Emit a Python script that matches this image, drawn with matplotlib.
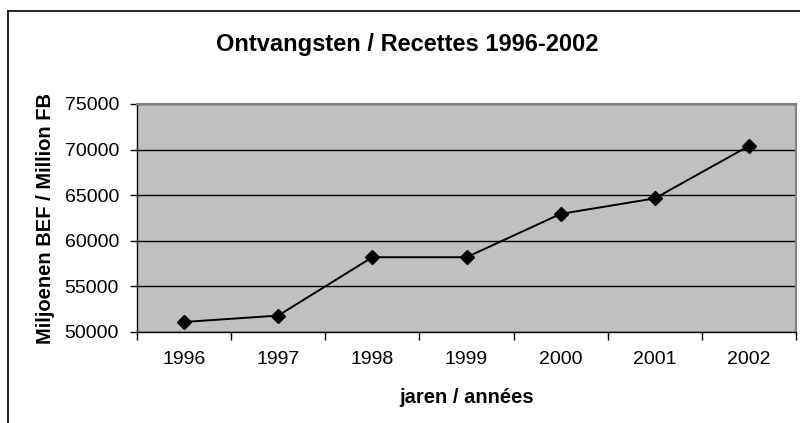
import matplotlib
matplotlib.use("Agg")
import matplotlib.pyplot as plt
from matplotlib.lines import Line2D
import numpy as np

plt.rcParams["font.family"] = ["Liberation Sans", "DejaVu Sans"]

# Data
years = ["1996", "1997", "1998", "1999", "2000", "2001", "2002"]
receipts = [51100, 51800, 58200, 58200, 62950, 64650, 70400]

title = "Ontvangsten / Recettes 1996-2002"
xlabel = "jaren / années"
ylabel = "Miljoenen BEF / Million FB"

fig = plt.figure(figsize=(8, 4.23), dpi=100)
ax = fig.add_axes([137 / 800, 1 - 332 / 423, (796 - 137) / 800, (332 - 104) / 423])

ax.set_facecolor("#c0c0c0")
x = np.arange(len(years))
ax.plot(x, receipts, color="black", linewidth=1.4, marker="D",
        markersize=7, markerfacecolor="black", markeredgecolor="black",
        zorder=3)

ax.set_ylim(50000, 75000)
ax.set_yticks(np.arange(50000, 75001, 5000))
ax.yaxis.grid(True, color="black", linewidth=1.0)
ax.set_axisbelow(True)

# categorie-as: streepjes tussen de jaren, labels in het midden
ax.set_xlim(-0.5, len(years) - 0.5)
ax.set_xticks(np.arange(-0.5, len(years), 1.0))
ax.set_xticklabels([])
ax.set_xticks(x, minor=True)
ax.set_xticklabels(years, minor=True)
ax.tick_params(axis="x", which="minor", length=0, pad=14, labelsize=14)
ax.tick_params(axis="x", which="major", length=6, width=1, direction="out")
ax.tick_params(axis="y", length=5, width=1, direction="out", labelsize=14, pad=8)

for side in ("top", "right"):
    ax.spines[side].set_color("#808080")
    ax.spines[side].set_linewidth(1.5)
for side in ("left", "bottom"):
    ax.spines[side].set_color("black")
    ax.spines[side].set_linewidth(1.0)

ax.set_xlabel(xlabel, fontsize=14.5, fontweight="bold", labelpad=14)
ax.set_ylabel(ylabel, fontsize=14.5, fontweight="bold", labelpad=7)

fig.text(407 / 800, 1 - 44 / 423, title, ha="center", va="center",
         fontsize=17, fontweight="bold")

# outer chart frame (cut off at right and bottom)
fx = 7.5 / 800
fy = 1 - 11.5 / 423
fig.add_artist(Line2D([fx, fx], [0, fy], transform=fig.transFigure,
                      color="black", linewidth=1.2))
fig.add_artist(Line2D([fx, 1], [fy, fy], transform=fig.transFigure,
                      color="black", linewidth=1.2))

fig.savefig("out.png", dpi=100)
